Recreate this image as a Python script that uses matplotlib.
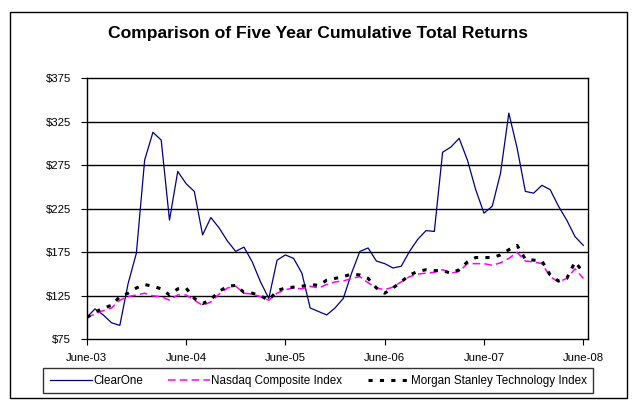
import matplotlib
matplotlib.use("Agg")
import matplotlib.pyplot as plt
from matplotlib.patches import Rectangle

plt.rcParams["font.family"] = ["Liberation Sans", "DejaVu Sans"]
plt.rcParams["lines.scale_dashes"] = False

# monthly values, June-03 .. June-08
clearone = [100, 110, 103, 94, 91, 139, 174, 281, 313, 304, 212, 268, 254,
            245, 195, 215, 203, 188, 176, 181, 164, 141, 122, 166, 172,
            168, 151, 111, 107, 103, 111, 122, 151, 176, 180, 165, 162,
            157, 159, 176, 190, 200, 199, 290, 296, 306, 281, 247, 220,
            228, 266, 335, 295, 245, 243, 252, 247, 228, 212, 193, 183]
nasdaq = [100, 104, 108, 111, 120, 124, 126, 128, 125, 124, 120, 126, 126,
          120, 114, 118, 127, 134, 136, 128, 127, 124, 120, 128, 132,
          134, 133, 136, 134, 138, 141, 142, 145, 147, 140, 134, 132,
          135, 141, 147, 150, 151, 152, 155, 151, 153, 162, 162, 162,
          160, 163, 168, 175, 165, 164, 162, 147, 141, 145, 156, 145]
morgan = [100, 106, 111, 114, 124, 128, 134, 138, 136, 133, 126, 133, 134,
          122, 116, 121, 130, 136, 137, 129, 128, 125, 120, 131, 134,
          135, 136, 138, 137, 143, 145, 147, 150, 149, 145, 134, 128,
          134, 141, 149, 153, 155, 154, 154, 151, 155, 164, 169, 169,
          169, 172, 178, 183, 167, 166, 165, 149, 142, 145, 164, 152]

x_ticks = [0, 12, 24, 36, 48, 60]
x_labels = ["June-03", "June-04", "June-05", "June-06", "June-07", "June-08"]
y_ticks = [75, 125, 175, 225, 275, 325, 375]
y_labels = ["$75", "$125", "$175", "$225", "$275", "$325", "$375"]

months = list(range(len(clearone)))

fig = plt.figure(figsize=(6.39, 4.07), dpi=100)
fig.patch.set_facecolor("white")

# outer chart frame
fig.patches.append(Rectangle((0.0164, 0.0221), 0.9644, 0.9492, transform=fig.transFigure,
                             fill=False, edgecolor="black", linewidth=1.0))

ax = fig.add_axes([0.1357, 0.1663, 0.7840, 0.6413])

for y in y_ticks[1:-1]:
    ax.axhline(y, color="black", linewidth=1.0, zorder=1)

ax.plot(months, clearone, color="#000080", linewidth=0.9, label="ClearOne", zorder=3)
ax.plot(months, nasdaq, color="#FF00FF", linewidth=1.1, dashes=(5.5, 3.0),
        label="Nasdaq Composite Index", zorder=4)
ax.plot(months, morgan, color="black", linewidth=2.2, dashes=(3.0, 5.2),
        label="Morgan Stanley Technology Index", zorder=5)

ax.set_xlim(0, 60.53)
ax.set_ylim(75, 375)
ax.set_xticks(x_ticks)
ax.set_xticklabels(x_labels)
ax.set_yticks(y_ticks)
ax.set_yticklabels(y_labels)
ax.tick_params(axis="both", direction="out", length=4, width=0.8, labelsize=8.2, colors="black")
ax.tick_params(axis="y", pad=7.5)
ax.tick_params(axis="x", pad=6)
for side in ax.spines.values():
    side.set_linewidth(1.0)
    side.set_color("black")

fig.text(0.498, 0.9165, "Comparison of Five Year Cumulative Total Returns",
         ha="center", va="center", fontsize=12.6, fontweight="bold")

leg = fig.legend(loc="center", ncol=3, bbox_to_anchor=(0.0678, 0.0319, 0.8607, 0.0647),
                 mode="expand", fontsize=8.4, frameon=True, fancybox=False,
                 handlelength=3.6, handletextpad=0.1, borderpad=0.55,
                 columnspacing=1.5, borderaxespad=0.0)
leg.get_frame().set_edgecolor("black")
leg.get_frame().set_linewidth(1.0)

fig.savefig("out.png", dpi=100, facecolor="white")
